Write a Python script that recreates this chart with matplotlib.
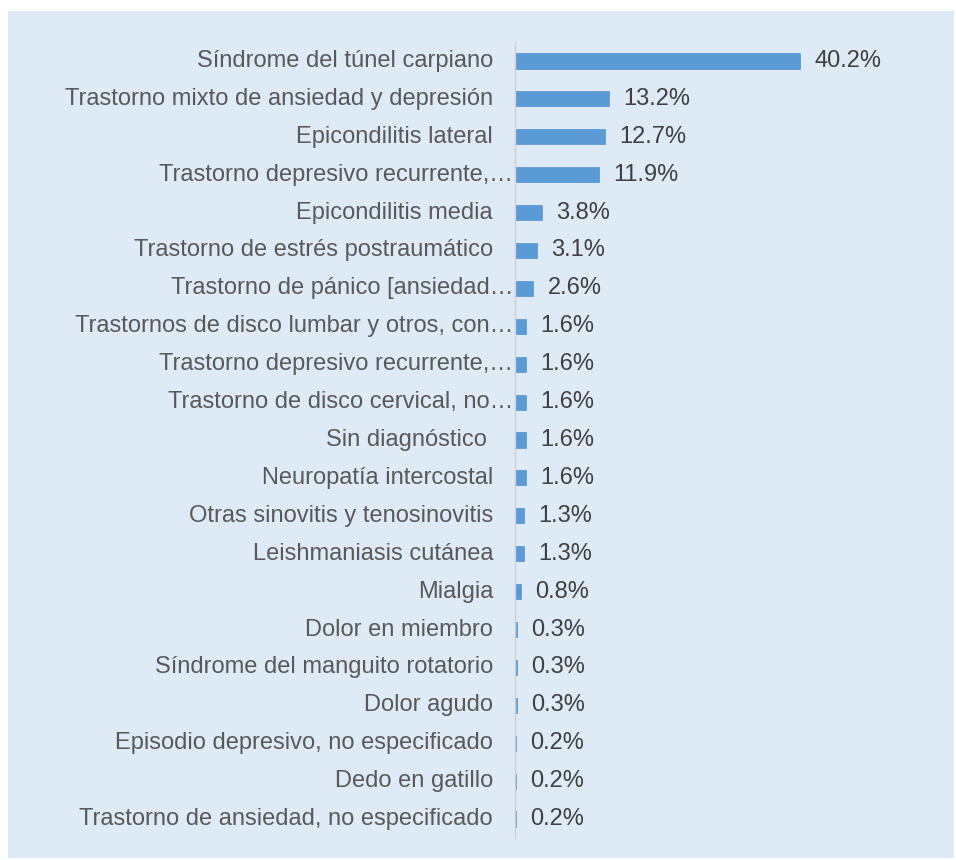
import matplotlib
matplotlib.use('Agg')
import matplotlib.pyplot as plt
from matplotlib.patches import Rectangle

plt.rcParams.update({'font.family': ['Liberation Sans', 'DejaVu Sans']})

categories = [
    'Síndrome del túnel carpiano',
    'Trastorno mixto de ansiedad y depresión',
    'Epicondilitis lateral',
    'Trastorno depresivo recurrente,…',
    'Epicondilitis media',
    'Trastorno de estrés postraumático',
    'Trastorno de pánico [ansiedad…',
    'Trastornos de disco lumbar y otros, con…',
    'Trastorno depresivo recurrente,…',
    'Trastorno de disco cervical, no…',
    'Sin diagnóstico ',
    'Neuropatía intercostal',
    'Otras sinovitis y tenosinovitis',
    'Leishmaniasis cutánea',
    'Mialgia',
    'Dolor en miembro',
    'Síndrome del manguito rotatorio',
    'Dolor agudo',
    'Episodio depresivo, no especificado',
    'Dedo en gatillo',
    'Trastorno de ansiedad, no especificado',
]
values = [40.2, 13.2, 12.7, 11.9, 3.8, 3.1, 2.6, 1.6, 1.6, 1.6, 1.6, 1.6,
          1.3, 1.3, 0.8, 0.3, 0.3, 0.3, 0.2, 0.2, 0.2]

bg = '#deeaf6'
bar_color = '#5b9bd5'

fig = plt.figure(figsize=(9.56, 8.6), dpi=100)
fig.patch.set_facecolor('white')
fig.patches.append(Rectangle((8 / 956, 2 / 860), 946 / 956, 847 / 860,
                             transform=fig.transFigure, facecolor=bg,
                             edgecolor='none', zorder=-10))

ax = fig.add_axes([515 / 956, 22 / 860, 355 / 956, 796 / 860])
ax.set_facecolor('none')

y = list(range(len(categories)))
ax.barh(y, values, height=0.4, color=bar_color, edgecolor=bar_color,
        linewidth=0.6)
for yi, v in zip(y, values):
    ax.text(v + 2.0, yi, f'{v:.1f}%', va='center', ha='left',
            fontsize=17, color='#404040')

# category labels; truncated ones run right up to the axis like in Excel
for yi, cat in zip(y, categories):
    pad = 1.5 if cat.endswith('…') else 15.8
    ax.annotate(cat, (0, yi), xytext=(-pad, 0), textcoords='offset points',
                ha='right', va='center', fontsize=17, color='#595959',
                annotation_clip=False)

ax.set_xlim(0, 50)
ax.set_ylim(len(categories) - 0.5, -0.5)
ax.set_yticks([])
ax.set_xticks([])
for s in ['top', 'right', 'bottom']:
    ax.spines[s].set_visible(False)
ax.spines['left'].set_color('#d0d0d0')
ax.spines['left'].set_linewidth(1)

fig.savefig('out.png', dpi=100)
